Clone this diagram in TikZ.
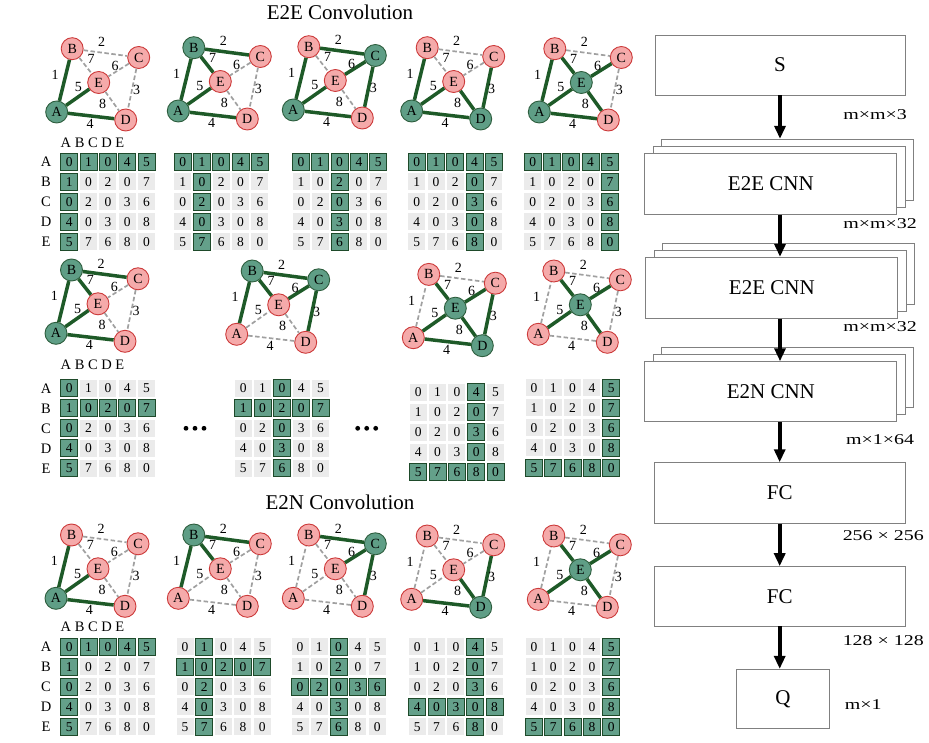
\documentclass[tikz,border=0pt]{standalone}
\usepackage{fontspec}
\setmainfont{Liberation Serif}
\usepackage{graphicx}
\usetikzlibrary{arrows.meta,calc}
\definecolor{gfill}{HTML}{5F9E86}
\definecolor{gdraw}{HTML}{2E5E3E}
\definecolor{pfill}{HTML}{F5AAAA}
\definecolor{pdraw}{HTML}{CC3A3A}
\definecolor{edk}{HTML}{1E5A28}
\definecolor{egray}{HTML}{A0A0A0}
\definecolor{cgray}{HTML}{EBEBEB}
\definecolor{cgreen}{HTML}{64A08A}
\definecolor{cgdraw}{HTML}{1E4A2A}
\definecolor{boxgray}{HTML}{808080}

\makeatletter
\newcommand\pickst[5]{\in@{,#2,}{,#3,}\ifin@\tikzset{#1/.style={#4}}\else\tikzset{#1/.style={#5}}\fi}
\makeatother
\newcommand\wide[1]{\scalebox{1.33}[1]{#1}}

\tikzset{
 vtx/.style={circle,minimum size=22pt,inner sep=0pt,line width=0.9pt,font=\fontsize{14}{16}\selectfont},
 von/.style={vtx,fill=gfill,draw=gdraw},
 voff/.style={vtx,fill=pfill,draw=pdraw},
 eon/.style={draw=edk,line width=3.5pt},
 eoff/.style={draw=egray,line width=1.7pt,dash pattern=on 4.5pt off 2.5pt},
 elab/.style={font=\fontsize{14}{16}\selectfont,inner sep=0pt},
 cellbase/.style={rectangle,minimum size=17pt,inner sep=0pt,font=\fontsize{13.5}{15}\selectfont},
 gcell/.style={cellbase,fill=cgreen,draw=cgdraw,line width=0.9pt},
 ccell/.style={cellbase,fill=cgray},
 hdr/.style={font=\fontsize{14.5}{16}\selectfont,inner sep=0pt},
 ttl/.style={font=\fontsize{21}{25}\selectfont,inner sep=0pt},
 box/.style={draw=boxgray,line width=0.9pt,fill=white,inner sep=0pt,font=\fontsize{21}{25}\selectfont},
 dimlab/.style={font=\fontsize{15}{18}\selectfont,inner sep=0pt},
 arr/.style={line width=4pt,-{Triangle[width=11pt,length=13pt]}},
}

\newcommand\graphat[5]{%
 \begin{scope}[shift={(#2,#3)}]
  \pickst{sA}{A}{#4}{von}{voff}\pickst{sB}{B}{#4}{von}{voff}%
  \pickst{sC}{C}{#4}{von}{voff}\pickst{sD}{D}{#4}{von}{voff}%
  \pickst{sE}{E}{#4}{von}{voff}%
  \pickst{sAB}{AB}{#5}{eon}{eoff}\pickst{sBC}{BC}{#5}{eon}{eoff}%
  \pickst{sBE}{BE}{#5}{eon}{eoff}\pickst{sCE}{CE}{#5}{eon}{eoff}%
  \pickst{sAE}{AE}{#5}{eon}{eoff}\pickst{sCD}{CD}{#5}{eon}{eoff}%
  \pickst{sDE}{DE}{#5}{eon}{eoff}\pickst{sAD}{AD}{#5}{eon}{eoff}%
  \node[sA] (#1A) at (0,0) {A};
  \node[sB] (#1B) at (15.5,-63.3) {B};
  \node[sC] (#1C) at (82,-54.5) {C};
  \node[sE] (#1E) at (42,-29.5) {E};
  \node[sD] (#1D) at (69,8) {D};
  \draw[sAB] (#1A) -- (#1B);
  \draw[sBC] (#1B) -- (#1C);
  \draw[sBE] (#1B) -- (#1E);
  \draw[sCE] (#1C) -- (#1E);
  \draw[sAE] (#1A) -- (#1E);
  \draw[sCD] (#1C) -- (#1D);
  \draw[sDE] (#1E) -- (#1D);
  \draw[sAD] (#1A) -- (#1D);
  \node[elab] (#1w1) at (-1.7,-37) {1};
  \node[elab] (#1w2) at (45,-69.7) {2};
  \node[elab] (#1w7) at (34.3,-53) {7};
  \node[elab] (#1w6) at (58.3,-46.3) {6};
  \node[elab] (#1w5) at (21.6,-24.7) {5};
  \node[elab] (#1w3) at (80,-22) {3};
  \node[elab] (#1w8) at (46,-8) {8};
  \node[elab] (#1w4) at (33.3,12) {4};
 \end{scope}}

\newcommand\matat[5]{%
 \begin{scope}[shift={(#2,#3)}]
 \foreach \rw [count=\i from 0] in {{0,1,0,4,5},{1,0,2,0,7},{0,2,0,3,6},{4,0,3,0,8},{5,7,6,8,0}}{
   \foreach \vv [count=\j from 0] in \rw {
     \pgfmathtruncatemacro\hl{(\i==#4)||(\j==#5)}
     \ifnum\hl=1 \tikzset{cst/.style=gcell}\else\tikzset{cst/.style=ccell}\fi
     \node[cst] (#1-\i-\j) at (19.3*\j,20*\i) {\vv};
   }}
 \end{scope}}

\newcommand\labels[3]{% prefix, header y, first row y
  \node[hdr] (#1h) at (92.5,#2) {A B C D E};
  \foreach \L [count=\k from 0] in {A,B,C,D,E}{
    \node[hdr] (#1r\L) at (46,#3+20*\k) {\L};}}

\newcommand\stackat[5]{% name, x, y, height, text
 \node[box,minimum width=252pt,minimum height=#4pt] (#1c) at ($(#2,#3)+(16.6,-14)$) {};
 \node[box,minimum width=252pt,minimum height=#4pt] (#1b) at ($(#2,#3)+(8.3,-7)$) {};
 \node[box,minimum width=252pt,minimum height=#4pt] (#1) at (#2,#3) {#5};}

\begin{document}
\begin{tikzpicture}[x=1pt,y=-1pt]
\useasboundingbox (0,0) rectangle (929,743);

\node[ttl] (t1) at (340,12) {E2E Convolution};
\node[ttl] (t2) at (340,502) {E2N Convolution};

% row 1
\graphat{ga}{56.7}{112}{A}{AB,AE,AD}
\graphat{gb}{178.3}{111}{A,B}{AB,AE,AD,BC,BE}
\graphat{gc}{293.3}{110}{A,C}{AB,AE,AD,BC,CE,CD}
\graphat{gd}{411.7}{111}{A,D}{AB,AE,AD,CD,DE}
\graphat{ge}{539.3}{112}{A,E}{AB,AE,AD,BE,CE,DE}
\labels{la}{143}{161.7}
\matat{ma}{69.3}{161.7}{0}{0}
\matat{mb}{182.7}{161.7}{0}{1}
\matat{mc}{301}{161.7}{0}{2}
\matat{md}{416.7}{161.7}{0}{3}
\matat{me}{532.7}{161.7}{0}{4}

% row 2
\graphat{gf}{56}{333.3}{A,B}{AB,AE,AD,BC,BE}
\graphat{gg}{236.7}{334.3}{B,C}{AB,BC,BE,CE,CD}
\graphat{gh}{413.3}{337.7}{D,E}{AE,BE,CE,DE,AD,CD}
\graphat{gi}{538.3}{334.3}{E}{AE,BE,CE,DE}
\labels{lb}{365}{388.3}
\matat{mf}{69.3}{388.3}{1}{0}
\matat{mg}{243.3}{388.3}{1}{2}
\matat{mh}{418.3}{392.3}{4}{3}
\matat{mi}{534}{387.7}{4}{4}
\foreach \k in {0,1,2}{
  \fill (186+9*\k,428.3) circle (2.4);
  \fill (357.7+9*\k,428.3) circle (2.4);}

% row 3
\graphat{gj}{56}{598.3}{A}{AB,AE,AD}
\graphat{gk}{178.3}{598.3}{B}{AB,BC,BE}
\graphat{gl}{293.3}{598.3}{C}{BC,CE,CD}
\graphat{gm}{411.7}{599.3}{D}{AD,CD,DE}
\graphat{gn}{538.3}{599.3}{E}{AE,BE,CE,DE}
\labels{lc}{626.7}{646.7}
\matat{mj}{69.3}{646.7}{0}{0}
\matat{mk}{185}{646.7}{1}{1}
\matat{ml}{300}{646.7}{2}{2}
\matat{mm}{417.3}{646.7}{3}{3}
\matat{mn}{534}{646.7}{4}{4}

% pipeline
\node[box,minimum width=250pt,minimum height=60pt] (S) at (780,65) {S};
\stackat{E1}{770.8}{183.8}{61}{E2E CNN}
\stackat{E2}{771.8}{287.8}{61}{E2E CNN}
\stackat{E3}{770.8}{391.7}{60}{E2N CNN}
\node[box,minimum width=250.7pt,minimum height=60.6pt] (F1) at (779.7,493) {FC};
\node[box,minimum width=250.7pt,minimum height=59.3pt] (F2) at (779.7,596.3) {FC};
\node[box,minimum width=92.6pt,minimum height=59pt] (Q) at (783,698.8) {Q};

\draw[arr] (S.south) -- (S.south |- E1c.north);
\draw[arr] (S.south |- E1.south) -- (S.south |- E2.north);
\draw[arr] (S.south |- E2.south) -- (S.south |- E3.north);
\draw[arr] (F1.north |- E3.south) -- (F1.north);
\draw[arr] (F1.south) -- (F2.north);
\draw[arr] (F2.south) -- (F2.south |- Q.north);

\node[dimlab] (d1) at (875,114.3) {\wide{m×m×3}};
\node[dimlab] (d2) at (880,224) {\wide{m×m×32}};
\node[dimlab] (d3) at (880,326.7) {\wide{m×m×32}};
\node[dimlab] (d4) at (880,440) {\wide{m×1×64}};
\node[dimlab] (d5) at (883.3,536) {\wide{256 × 256}};
\node[dimlab] (d6) at (883.3,641) {\wide{128 × 128}};
\node[dimlab] (d7) at (863.3,705) {\wide{m×1}};
\end{tikzpicture}
\end{document}
